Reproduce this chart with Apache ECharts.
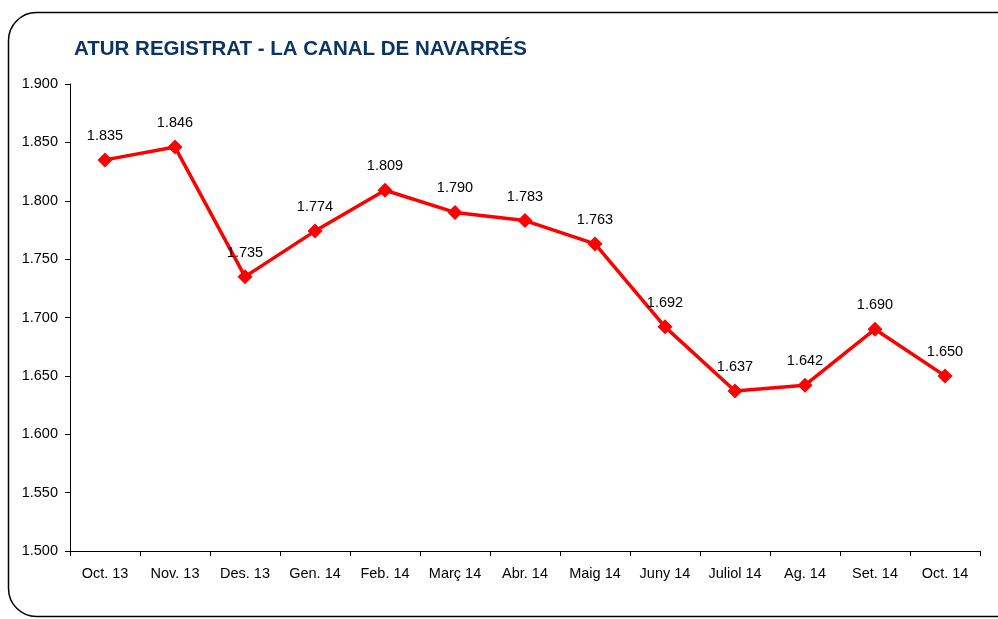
<!DOCTYPE html>
<html><head><meta charset="utf-8">
<script src="https://cdn.jsdelivr.net/npm/echarts@6/dist/echarts.min.js"></script>
<style>html,body{margin:0;padding:0;background:#fff}#c{width:998px;height:619px}</style>
</head><body><div id="c"></div>
<script>
const categories = ['Oct. 13','Nov. 13','Des. 13','Gen. 14','Feb. 14','Març 14','Abr. 14','Maig 14','Juny 14','Juliol 14','Ag. 14','Set. 14','Oct. 14'];
const values = [1835,1846,1735,1774,1809,1790,1783,1763,1692,1637,1642,1690,1650];
const title = 'ATUR REGISTRAT - LA CANAL DE NAVARRÉS';
const fmt = v => (v/1000).toFixed(3);
const FONT = 'Liberation Sans, Arial, sans-serif';
const chart = echarts.init(document.getElementById('c'), null, {renderer:'canvas'});
chart.setOption({
  animation:false,
  backgroundColor:'#fff',
  textStyle:{fontFamily:FONT},
  graphic:[{type:'rect',shape:{x:8.5,y:12.5,width:1100,height:604,r:[28,0,0,28]},style:{fill:'none',stroke:'#000',lineWidth:1.5},z:-1}],
  title:{text:title,left:69,top:34,textStyle:{color:'#0B3466',fontSize:20.5,fontWeight:'bold',fontFamily:FONT}},
  grid:{left:70,right:18,top:84,bottom:68},
  xAxis:{type:'category',data:categories,boundaryGap:true,
    axisLine:{lineStyle:{color:'#000',width:1}},
    axisTick:{show:true,length:5,lineStyle:{color:'#000'}},
    axisLabel:{color:'#000',fontSize:14.5,margin:15,interval:0}},
  yAxis:{type:'value',min:1500,max:1900,interval:50,
    axisLine:{show:true,lineStyle:{color:'#000',width:1}},
    axisTick:{show:true,length:5,lineStyle:{color:'#000'}},
    splitLine:{show:false},
    axisLabel:{color:'#000',fontSize:14.5,margin:12,formatter:v=>fmt(v)}},
  series:[{type:'line',data:values,color:'#FF0000',
    lineStyle:{color:'#FF0000',width:3.5},
    symbol:'diamond',symbolSize:15,itemStyle:{color:'#FF0000'},
    label:{show:true,position:'top',distance:9,color:'#000',fontSize:14.5,formatter:p=>fmt(p.value)}}]
});
</script></body></html>
